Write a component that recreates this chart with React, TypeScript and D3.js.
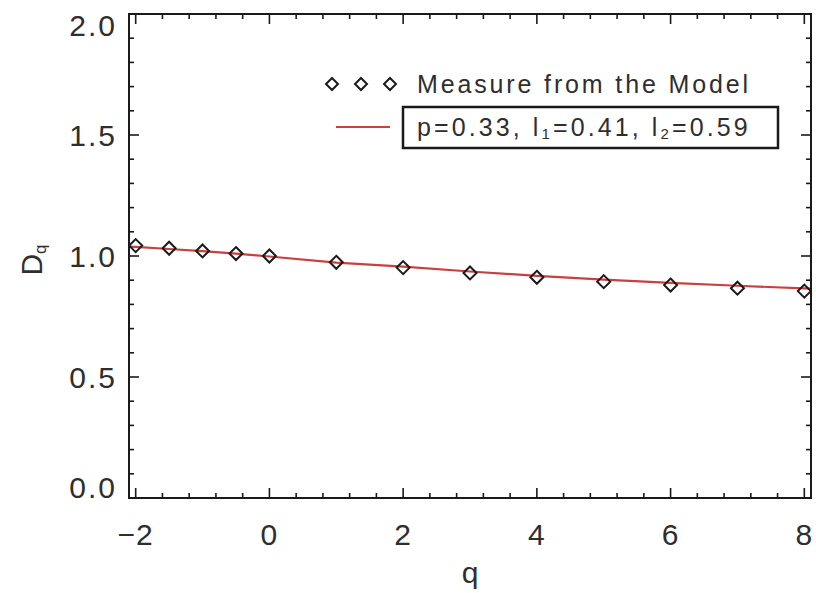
import React from "react";
import * as d3 from "d3";

const qMeasured = [-2, -1.5, -1, -0.5, 0, 1, 2, 3, 4, 5, 6, 7, 8];
const dMeasured = [1.043, 1.032, 1.021, 1.01, 1.0, 0.974, 0.952, 0.93, 0.912, 0.894, 0.88, 0.867, 0.855];
const qModel = [-2.1, -2, -1.5, -1, -0.5, 0, 1, 2, 3, 4, 5, 6, 7, 8, 8.1];
const dModel = [1.039, 1.038, 1.029, 1.02, 1.01, 0.998, 0.973, 0.956, 0.936, 0.918, 0.902, 0.889, 0.877, 0.866, 0.865];
const xTicks = [-2, 0, 2, 4, 6, 8];
const yTicks = [0, 0.5, 1.0, 1.5, 2.0];
const legendMeasure = "Measure from the Model";

const W = 816, H = 593;
const L = 129, R = 811, T = 14, B = 498;
const FONT = "'Liberation Sans', Arial, Helvetica, sans-serif";
const INK = "#1a1a1a";
const TXT = "#2e2e2e";
const RED = "#c94040";

export default function App() {
  const x = d3.scaleLinear().domain([-2.1, 8.1]).range([L, R]);
  const y = d3.scaleLinear().domain([0, 2]).range([B, T]);

  const xMinor = d3.range(-2, 8.001, 0.4).filter(v => v >= -2.1 && v <= 8.1);
  const yMinor = d3.range(0, 2.0001, 0.1);

  const line = d3.line<number>()
    .x((_, i) => x(qModel[i]))
    .y(d => y(d));

  const diamond = (cx: number, cy: number, r: number) =>
    `M${cx},${cy - r}L${cx + r},${cy}L${cx},${cy + r}L${cx - r},${cy}Z`;

  const tickEls: React.ReactNode[] = [];
  xMinor.forEach((v, i) => {
    const isMajor = xTicks.some(t => Math.abs(t - v) < 1e-6);
    const len = isMajor ? 10 : 5;
    tickEls.push(<line key={"xb" + i} x1={x(v)} x2={x(v)} y1={B} y2={B - len} stroke={INK} strokeWidth={1.6} />);
    tickEls.push(<line key={"xt" + i} x1={x(v)} x2={x(v)} y1={T} y2={T + len} stroke={INK} strokeWidth={1.6} />);
  });
  yMinor.forEach((v, i) => {
    const isMajor = yTicks.some(t => Math.abs(t - v) < 1e-6);
    const len = isMajor ? 10 : 5;
    tickEls.push(<line key={"yl" + i} x1={L} x2={L + len} y1={y(v)} y2={y(v)} stroke={INK} strokeWidth={1.6} />);
    tickEls.push(<line key={"yr" + i} x1={R} x2={R - len} y1={y(v)} y2={y(v)} stroke={INK} strokeWidth={1.6} />);
  });

  const fmtY = d3.format(".1f");

  return (
    <svg width={W} height={H} style={{ position: "absolute", left: 0, top: 0, background: "#fff" }}>
      <rect x={0} y={0} width={W} height={H} fill="#fff" />
      <defs>
        <clipPath id="plotclip">
          <rect x={L} y={T} width={R - L} height={B - T} />
        </clipPath>
      </defs>

      {/* model line */}
      <path d={line(dModel) || ""} fill="none" stroke={RED} strokeWidth={2.2} clipPath="url(#plotclip)" />

      {/* measured diamonds */}
      {dMeasured.map((d, i) => (
        <path key={i} d={diamond(x(qMeasured[i]), y(d), 6.5)} fill="none" stroke={INK} strokeWidth={2} />
      ))}

      {/* frame */}
      <rect x={L} y={T} width={R - L} height={B - T} fill="none" stroke={INK} strokeWidth={2} />
      {tickEls}

      {/* x tick labels */}
      {xTicks.map(t => (
        <text key={"xl" + t} x={x(t)} y={545} textAnchor="middle" fontFamily={FONT} fontSize={30}
          fill={TXT} letterSpacing={1}>
          {t < 0 ? "\u2212" + Math.abs(t) : String(t)}
        </text>
      ))}
      {/* y tick labels */}
      {yTicks.map(t => {
        const cy = Math.min(Math.max(y(t), T + 11), B - 11);
        return (
          <text key={"yl" + t} x={117} y={cy} dy="0.36em" textAnchor="end" fontFamily={FONT} fontSize={30}
            fill={TXT} letterSpacing={2}>
            {fmtY(t)}
          </text>
        );
      })}

      {/* axis titles */}
      <text x={(L + R) / 2} y={583} textAnchor="middle" fontFamily={FONT} fontSize={30} fill={TXT}>q</text>
      <text transform={`translate(42,260) rotate(-90)`} textAnchor="middle" fontFamily={FONT} fontSize={30} fill={TXT}>
        D<tspan fontSize={17} dy={4}>q</tspan>
      </text>

      {/* legend */}
      {[332, 361, 390].map(cx => (
        <path key={cx} d={diamond(cx, 84, 6)} fill="none" stroke={INK} strokeWidth={2} />
      ))}
      <text x={417} y={93} fontFamily={FONT} fontSize={25} fill={TXT} textLength={331} lengthAdjust="spacing">
        {legendMeasure}
      </text>
      <line x1={336} x2={390} y1={127} y2={127} stroke={RED} strokeWidth={2.2} />
      <rect x={403} y={107} width={375} height={41} fill="none" stroke={INK} strokeWidth={2.5} />
      <text x={417} y={136} fontFamily={FONT} fontSize={25} fill={TXT} letterSpacing={3.1}>
        p=0.33, l<tspan fontSize={15} dy={3}>1</tspan><tspan dy={-3}>=0.41, l</tspan><tspan fontSize={15} dy={3}>2</tspan><tspan dy={-3}>=0.59</tspan>
      </text>
    </svg>
  );
}
